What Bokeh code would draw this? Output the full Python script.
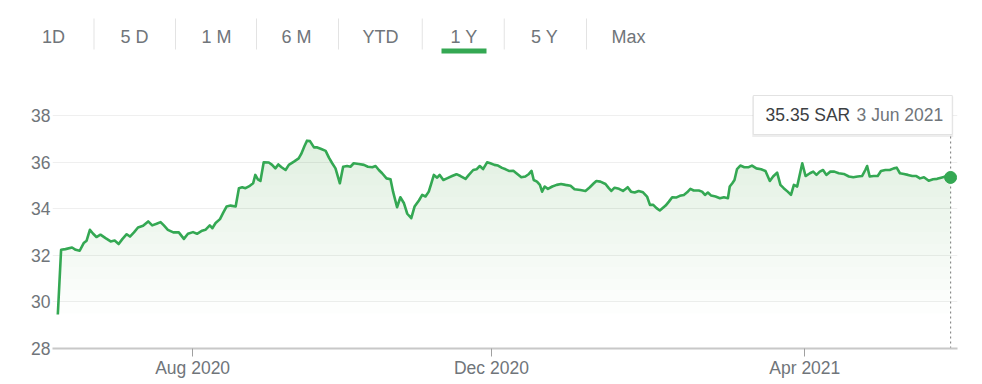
import numpy as np
from bokeh.plotting import figure
from bokeh.models import Range1d, FixedTicker
from bokeh.embed import file_html
from bokeh.resources import INLINE
from bokeh.core.properties import value

# ---------------- data ----------------
tabs = ["1D", "5 D", "1 M", "6 M", "YTD", "1 Y", "5 Y", "Max"]
active_tab = "1 Y"

# x = trading-session index (trading days are spaced evenly on the chart)
session = [
    0.0, 0.9, 2.1, 3.9, 4.9, 6.0, 7.1, 7.9, 8.8, 9.7, 10.6, 11.7, 13.1, 14.5, 15.6, 16.7,
    17.7, 18.9, 19.8, 20.9, 22.0, 23.4, 24.8, 25.9, 27.1, 28.2, 29.1, 30.2, 31.7, 33.2,
    34.6, 35.7, 37.1, 38.2, 39.6, 40.5, 41.7, 42.4, 43.3, 44.5, 45.4, 46.3, 47.4, 48.8,
    49.7, 50.6, 51.5, 52.7, 53.6, 54.2, 54.9, 55.6, 56.5, 57.9, 58.8, 59.7, 60.5, 61.4,
    62.5, 63.4, 64.8, 66.1, 66.8, 67.7, 68.4, 69.2, 70.3, 71.2, 72.3, 73.5, 74.4, 75.3,
    76.2, 77.4, 78.3, 79.4, 80.3, 81.2, 82.6, 84.0, 85.1, 86.3, 87.2, 88.1, 89.0, 90.2,
    91.3, 92.0, 93.1, 94.0, 95.0, 95.9, 97.0, 97.9, 99.1, 100.0, 100.9, 101.8, 102.5,
    103.2, 104.1, 104.8, 105.8, 106.8, 108.2, 109.4, 110.5, 111.9, 112.8, 114.0, 114.9,
    115.8, 116.7, 117.8, 118.7, 119.8, 120.8, 121.9, 122.9, 123.8, 125.0, 126.1, 127.2,
    128.3, 129.3, 130.0, 130.6, 131.5, 132.3, 132.9, 133.6, 134.5, 135.7, 136.9, 138.1,
    139.3, 140.7, 141.8, 143.4, 144.8, 146.0, 147.1, 147.8, 148.9, 150.3, 151.2, 151.9,
    152.8, 154.0, 155.1, 156.4, 157.3, 158.3, 159.4, 160.6, 161.7, 162.5, 163.4, 164.3,
    165.2, 166.8, 167.7, 168.6, 169.8, 170.7, 171.8, 172.7, 173.6, 174.5, 175.9, 176.8,
    177.6, 178.4, 179.3, 180.5, 181.7, 182.8, 183.9, 184.4, 185.1, 185.7, 186.4, 187.3,
    188.4, 189.6, 190.5, 191.7, 193.0, 194.2, 195.4, 196.3, 197.4, 198.3, 199.2, 200.3,
    201.2, 202.0, 202.9, 203.5, 204.3, 205.2, 206.4, 207.3, 208.2, 209.1, 210.0, 210.9,
    212.0, 213.1, 214.3, 215.7, 217.1, 218.3, 219.5, 220.7, 221.6, 222.1, 222.8, 223.9,
    225.0, 225.9, 227.1, 228.3, 229.4, 230.2, 231.1, 232.2, 233.3, 234.5, 235.6, 236.6,
    237.7, 239.0, 240.2, 241.3, 242.4, 243.6, 245.0,
]
price = [
    29.46, 32.24, 32.27, 32.34, 32.24, 32.20, 32.53, 32.63, 33.10, 32.93, 32.79, 32.89,
    32.74, 32.60, 32.64, 32.49, 32.70, 32.91, 32.81, 32.99, 33.20, 33.27, 33.46, 33.29,
    33.36, 33.43, 33.29, 33.10, 32.99, 32.99, 32.71, 32.93, 33.00, 32.93, 33.06, 33.10,
    33.29, 33.17, 33.39, 33.56, 33.84, 34.10, 34.14, 34.10, 34.89, 34.93, 34.89, 34.99,
    35.10, 35.46, 35.27, 35.20, 36.00, 35.99, 35.89, 35.74, 35.91, 35.79, 35.67, 35.89,
    36.03, 36.17, 36.36, 36.70, 36.93, 36.91, 36.64, 36.64, 36.57, 36.49, 36.20, 35.96,
    35.74, 35.10, 35.81, 35.84, 35.81, 35.96, 35.93, 35.89, 35.81, 35.79, 35.84, 35.67,
    35.53, 35.31, 35.27, 34.74, 34.07, 34.50, 34.24, 33.79, 33.60, 34.10, 34.36, 34.60,
    34.53, 34.74, 35.10, 35.46, 35.34, 35.46, 35.24, 35.31, 35.41, 35.49, 35.41, 35.29,
    35.46, 35.67, 35.70, 35.84, 35.71, 36.00, 35.96, 35.89, 35.86, 35.76, 35.70, 35.63,
    35.64, 35.50, 35.36, 35.39, 35.50, 35.63, 35.24, 35.17, 35.03, 34.74, 34.96, 34.86,
    34.96, 35.03, 35.07, 35.03, 34.99, 34.84, 34.81, 34.77, 34.93, 35.10, 35.20, 35.17,
    35.07, 34.89, 34.77, 34.91, 34.86, 34.77, 34.93, 34.74, 34.70, 34.77, 34.71, 34.53,
    34.17, 34.17, 34.03, 33.93, 34.14, 34.31, 34.50, 34.49, 34.56, 34.60, 34.71, 34.86,
    34.79, 34.79, 34.74, 34.60, 34.70, 34.57, 34.53, 34.46, 34.50, 34.46, 34.96, 35.10,
    35.24, 35.71, 35.86, 35.79, 35.79, 35.86, 35.74, 35.70, 35.63, 35.20, 35.39, 35.56,
    35.03, 34.89, 34.74, 34.60, 35.03, 34.96, 35.39, 35.96, 35.41, 35.53, 35.60, 35.46,
    35.60, 35.67, 35.46, 35.60, 35.60, 35.53, 35.50, 35.39, 35.36, 35.39, 35.41, 35.67,
    35.84, 35.39, 35.41, 35.41, 35.63, 35.67, 35.67, 35.74, 35.77, 35.53, 35.50, 35.46,
    35.41, 35.41, 35.31, 35.36, 35.21, 35.27, 35.29, 35.34, 35.39, 35.35,
]
y_ticks = [28, 30, 32, 34, 36, 38]
x_tick_sessions = [37, 119, 205]
x_tick_labels = ["Aug 2020", "Dec 2020", "Apr 2021"]
currency = "SAR"
last_date = "3 Jun 2021"

# ---------------- style ----------------
FONT = "Liberation Sans"
GREEN = "#34a853"
GREY = "#70757a"
BORDER_L, BORDER_R, FW = 52, 25, 905

# ---------------- tab bar (its own root; ranges in window pixels) ----------------
tab_centers = [53, 134, 216, 296, 380, 463.5, 544, 628]
bar = figure(width=982, height=84, min_border=0,
             x_range=Range1d(0, 982), y_range=Range1d(84, 0),
             x_axis_type=None, y_axis_type=None, output_backend="svg",
             toolbar_location=None)
bar.grid.visible = False
bar.outline_line_color = None
bar.text(x=tab_centers, y=[36.5] * len(tabs), text=tabs, text_font=value(FONT),
         text_font_size="18px", text_color=GREY, text_align="center",
         text_baseline="middle")
seps = [(a + b) / 2 for a, b in zip(tab_centers[:-1], tab_centers[1:])]
bar.segment(x0=seps, y0=[18] * len(seps), x1=seps, y1=[49] * len(seps),
            line_color="#e3e3e3", line_width=1)
ia = tabs.index(active_tab)
bar.quad(left=[tab_centers[ia] - 22.5], right=[tab_centers[ia] + 22.5],
         top=[48], bottom=[53], fill_color=GREEN, line_color=None)

# ---------------- chart ----------------
ss = np.array(session)
pr = np.array(price)
FH = 256
x0, x1 = -1.46, 246.9
y0, y1 = 28, 39.0
sx = FW / (x1 - x0)
sy = FH / (y1 - y0)

p = figure(frame_width=FW, frame_height=FH, x_range=Range1d(x0, x1),
           y_range=Range1d(y0, y1), output_backend="svg", toolbar_location=None,
           min_border_left=BORDER_L, min_border_right=BORDER_R, min_border_top=8,
           min_border_bottom=36)
p.outline_line_color = None
p.background_fill_color = "white"

# gradient-like fill under the line
levels = np.linspace(29.5, 37, 16)
for lv in levels:
    p.varea(x=ss, y1=np.full_like(pr, lv), y2=np.maximum(pr, lv),
            fill_color="#3cae5a", fill_alpha=0.012)

p.line(ss, pr, line_color=GREEN, line_width=2.6, line_join="round")

# tooltip
t_right = ss[-1] + 1.7 / sx
t_left = t_right - 199 / sx
t_top = y1 - 3 / sy
t_bot = t_top - 39 / sy
p.segment(x0=[ss[-1]], y0=[y0], x1=[ss[-1]], y1=[t_bot], line_color="#8a8a8a",
          line_width=1.2, line_dash="2 3")
p.quad(left=[t_left - 1 / sx], right=[t_right + 1 / sx], top=[t_top - 1 / sy],
       bottom=[t_bot - 2.5 / sy], fill_color="#000000", fill_alpha=0.07, line_color=None)
p.quad(left=[t_left], right=[t_right], top=[t_top], bottom=[t_bot],
       fill_color="white", line_color="#e2e2e2", line_width=1)
ty = (t_top + t_bot) / 2
p.text(x=[t_left + 12.3 / sx], y=[ty], text=[f"{pr[-1]:.2f} {currency}"],
       text_font=value(FONT), text_font_size="17.5px", text_color="#3c4043",
       text_baseline="middle", text_align="left")
p.text(x=[t_left + 103.3 / sx], y=[ty], text=[last_date],
       text_font=value(FONT), text_font_size="17.5px", text_color=GREY,
       text_baseline="middle", text_align="left")

p.scatter(x=[ss[-1]], y=[pr[-1]], size=12, color=GREEN)

# axes
p.xaxis.ticker = FixedTicker(ticks=x_tick_sessions)
p.xaxis.major_label_overrides = {t: l for t, l in zip(x_tick_sessions, x_tick_labels)}
p.xaxis.minor_tick_line_color = None
p.xaxis.axis_line_color = "#c8c8c8"
p.xaxis.axis_line_width = 2
p.xaxis.major_tick_line_color = "#a0a0a0"
p.xaxis.major_tick_out = 8
p.xaxis.major_tick_in = 0
p.xaxis.major_label_standoff = 1
p.xaxis.major_label_text_font = FONT
p.xaxis.major_label_text_font_size = "17.5px"
p.xaxis.major_label_text_color = GREY

p.yaxis.ticker = FixedTicker(ticks=y_ticks)
p.yaxis.axis_line_color = None
p.yaxis.major_tick_line_color = None
p.yaxis.minor_tick_line_color = None
p.yaxis.major_tick_out = 0
p.yaxis.major_label_standoff = 2
p.yaxis.major_label_text_font = FONT
p.yaxis.major_label_text_font_size = "17.5px"
p.yaxis.major_label_text_color = GREY

p.xgrid.visible = False
p.ygrid.ticker = FixedTicker(ticks=y_ticks)
p.ygrid.grid_line_color = "#efefef"

# two separate roots stacked on the page (avoids frame alignment of a column)
open("out.html", "w").write(file_html([bar, p], INLINE))
